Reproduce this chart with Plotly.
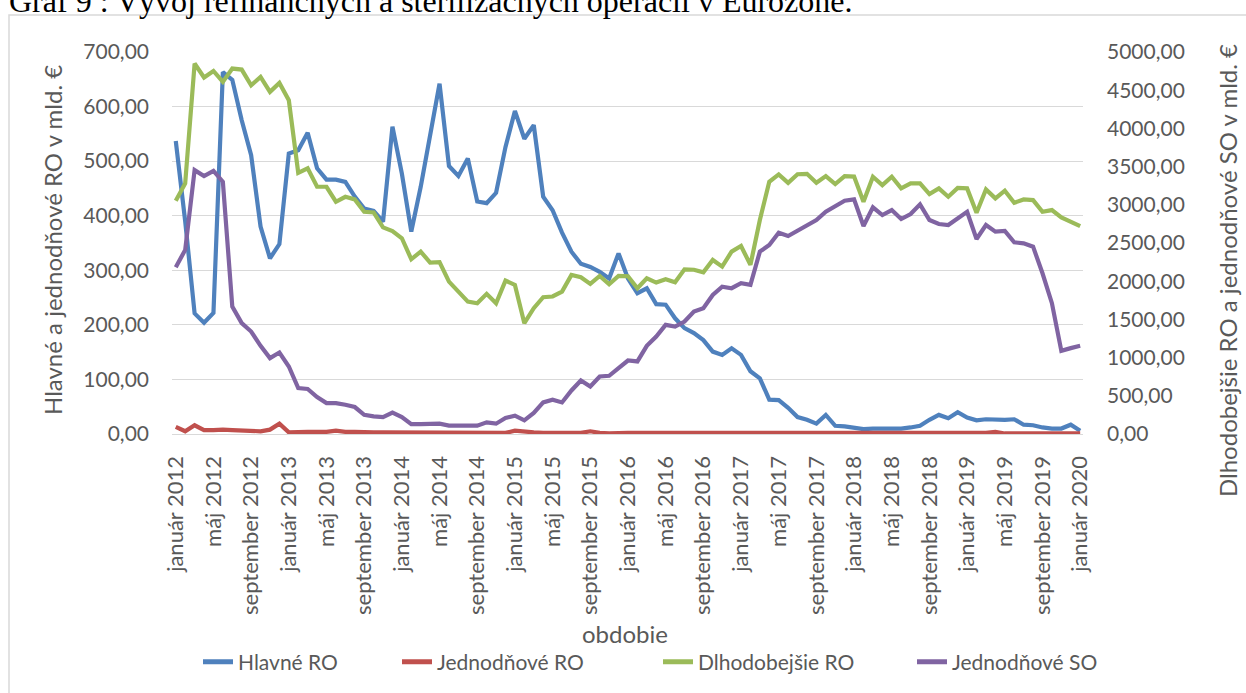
import plotly.graph_objects as go

# ---------------- data ----------------
month_names = ["január", "február", "marec", "apríl", "máj", "jún", "júl",
               "august", "september", "október", "november", "december"]
years = [2012, 2013, 2014, 2015, 2016, 2017, 2018, 2019, 2020]
periods = [f"{m} {y}" for y in years for m in month_names][:97]

hlavne_ro = [537, 390, 221, 204, 222, 663, 649, 575, 511, 380, 322, 348,
             514, 520, 552, 487, 466, 466, 462, 435, 413, 409, 389, 563,
             477, 371, 453, 544, 642, 491, 473, 505, 426, 423, 442, 526,
             592, 541, 566, 435, 410, 369, 334, 312, 306, 297, 285, 331,
             285, 258, 267, 238, 237, 212, 194, 185, 172, 151, 145, 157,
             145, 115, 102, 63, 62, 48, 31, 26, 19, 35, 15, 14,
             11, 9, 10, 10, 10, 10, 12, 15, 26, 35, 29, 40,
             30, 25, 27, 26, 26, 27, 17, 16, 12, 10, 10, 17,
             6]
jednodnove_ro = [13, 5, 16, 7, 7, 8, 7, 6, 6, 5, 8, 19,
                 3, 4, 4, 4, 4, 6, 4, 4, 3, 3, 3, 3,
                 3, 3, 3, 3, 2, 2, 2, 3, 3, 3, 3, 2,
                 6, 4, 3, 2, 2, 2, 3, 2, 5, 2, 1, 2,
                 2, 2, 2, 2, 2, 2, 1, 1, 1, 1, 1, 2,
                 2, 2, 2, 2, 2, 2, 2, 2, 2, 2, 2, 2,
                 2, 1, 1, 1, 1, 1, 2, 1, 1, 1, 1, 1,
                 1, 1, 2, 4, 1, 1, 1, 1, 1, 1, 1, 1,
                 1]
dlhodobejsie_ro = [3053, 3280, 4849, 4666, 4752, 4608, 4783, 4770, 4565, 4674, 4478, 4595,
                   4369, 3419, 3477, 3236, 3236, 3040, 3105, 3070, 2909, 2900, 2705, 2655,
                   2562, 2287, 2387, 2243, 2250, 1995, 1864, 1733, 1712, 1834, 1712, 2008,
                   1951, 1451, 1647, 1791, 1800, 1864, 2082, 2052, 1964, 2069, 1960, 2069,
                   2065, 1908, 2039, 1982, 2026, 1987, 2156, 2150, 2117, 2278, 2191, 2387,
                   2461, 2213, 2801, 3302, 3398, 3288, 3400, 3406, 3288, 3376, 3271, 3376,
                   3370, 3040, 3367, 3258, 3367, 3215, 3280, 3280, 3141, 3215, 3105, 3220,
                   3215, 2896, 3202, 3084, 3184, 3027, 3070, 3062, 2909, 2931, 2836, 2779,
                   2722]
jednodnove_so = [2183, 2409, 3454, 3376, 3445, 3302, 1668, 1451, 1341, 1154, 993, 1067,
                 884, 601, 590, 484, 405, 405, 383, 353, 252, 230, 222, 279,
                 222, 130, 130, 130, 135, 109, 113, 109, 109, 152, 135, 209,
                 239, 178, 276, 413, 448, 413, 570, 701, 622, 753, 762, 862,
                 962, 950, 1154, 1276, 1428, 1406, 1472, 1602, 1646, 1820, 1929, 1908,
                 1973, 1951, 2387, 2474, 2635, 2592, 2661, 2735, 2801, 2909, 2975, 3053,
                 3071, 2722, 2967, 2866, 2931, 2814, 2879, 3006, 2801, 2749, 2735, 2814,
                 2909, 2553, 2735, 2648, 2657, 2509, 2496, 2452, 2104, 1712, 1089, 1124,
                 1154]

tick_labels = periods[::4]
left_ticks = [0, 100, 200, 300, 400, 500, 600, 700]
right_ticks = [0, 500, 1000, 1500, 2000, 2500, 3000, 3500, 4000, 4500, 5000]

series_names = ["Hlavné RO", "Jednodňové RO", "Dlhodobejšie RO", "Jednodňové SO"]
colors = ["#4F81BD", "#C0504D", "#9BBB59", "#8064A2"]

# ---------------- layout helpers ----------------
W, H = 1246, 693
L, R, T, B = 172, 163, 52, 259
PW, PH = W - L - R, H - T - B


def xp(px):
    return (px - L) / PW


def yp(py):
    return (H - B - py) / PH


FONT = "Lato"
GREY = "#595959"

fig = go.Figure()
data = [(hlavne_ro, "y"), (jednodnove_ro, "y"), (dlhodobejsie_ro, "y2"), (jednodnove_so, "y2")]
legend_widths = [154, 216, 209, 150]
for (vals, ax), name, col, lw in zip(data, series_names, colors, legend_widths):
    fig.add_trace(go.Scatter(
        x=periods, y=vals, name=name, yaxis=ax, mode="lines",
        line=dict(color=col, width=4.2, shape="linear"),
        legendwidth=lw,
    ))

fig.update_layout(
    width=W, height=H,
    margin=dict(l=L, r=R, t=T, b=B, pad=0, autoexpand=False),
    paper_bgcolor="white", plot_bgcolor="white",
    separators=", ",
    font=dict(family=FONT, color=GREY, size=21),
    showlegend=True,
    legend=dict(orientation="h", xref="container", yref="container",
                x=198 / W, xanchor="left", y=1 - 662 / H, yanchor="middle",
                font=dict(family=FONT, size=21, color=GREY), bgcolor="rgba(0,0,0,0)",
                traceorder="normal", itemsizing="constant"),
    xaxis=dict(
        type="category", categoryorder="array", categoryarray=periods,
        range=[-0.4, 96.3],
        tickmode="array", tickvals=tick_labels, ticktext=tick_labels,
        tickangle=-90, tickfont=dict(family=FONT, size=22, color=GREY),
        showgrid=False, showline=True, linecolor="#D9D9D9", linewidth=1.3,
        ticks="", zeroline=False, ticklabelstandoff=12,
    ),
    yaxis=dict(
        range=[0, 700], tickmode="array", tickvals=left_ticks, tickformat=".2f",
        showgrid=True, gridcolor="#D9D9D9", gridwidth=1.3, zeroline=False,
        showline=False, ticks="", tickfont=dict(family=FONT, size=21, color=GREY),
        ticklabelstandoff=22,
    ),
    yaxis2=dict(
        range=[0, 5000], tickmode="array", tickvals=right_ticks, tickformat=".2f",
        overlaying="y", side="right", showgrid=False, zeroline=False,
        showline=False, ticks="", tickfont=dict(family=FONT, size=21, color=GREY),
        ticklabelstandoff=23,
    ),
)

annotations = [
    dict(text="Hlavné a jednodňové RO v mld. €", x=xp(52), y=yp(240), textangle=-90,
         font=dict(family=FONT, size=24, color=GREY)),
    dict(text="Dlhodobejšie RO a jednodňové SO v mld. €", x=xp(1227), y=yp(271), textangle=-90,
         font=dict(family=FONT, size=24, color=GREY)),
    dict(text="obdobie", x=xp(625), y=yp(633),
         font=dict(family=FONT, size=24, color=GREY)),
]
for a in annotations:
    a.update(xref="paper", yref="paper", showarrow=False, xanchor="center", yanchor="middle")
    fig.add_annotation(**a)

fig.add_annotation(text="Graf 9 : Vývoj refinančných a sterilizačných operácií v Eurozóne.",
                   xref="paper", yref="paper", x=xp(7), y=yp(21), xanchor="left", yanchor="bottom",
                   showarrow=False, font=dict(family="Liberation Serif", size=32, color="black"))

fig.add_shape(type="rect", xref="paper", yref="paper",
              x0=xp(9), x1=xp(1260), y0=yp(705), y1=yp(15),
              line=dict(color="#D9D9D9", width=1.5), fillcolor="rgba(0,0,0,0)", layer="below")

fig.write_html("out.html", config={"displayModeBar": False},
               post_script="document.body.style.margin='0';")
